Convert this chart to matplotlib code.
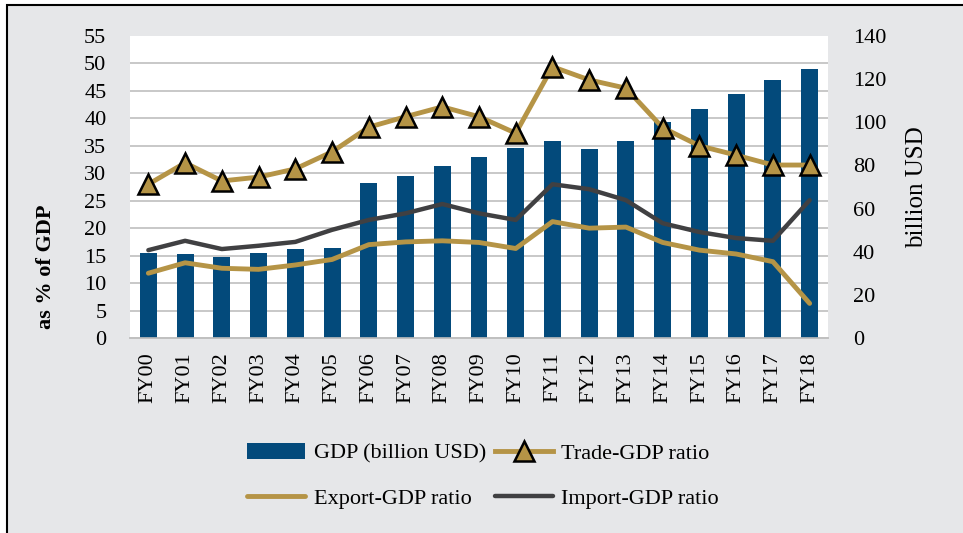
import matplotlib
matplotlib.use("Agg")
import matplotlib.pyplot as plt
from matplotlib.patches import Rectangle
from matplotlib.ticker import MultipleLocator

plt.rcParams['font.family'] = ['Liberation Serif', 'DejaVu Serif']

# data
years = ['FY00', 'FY01', 'FY02', 'FY03', 'FY04', 'FY05', 'FY06', 'FY07', 'FY08', 'FY09',
         'FY10', 'FY11', 'FY12', 'FY13', 'FY14', 'FY15', 'FY16', 'FY17', 'FY18']
gdp = [39.4, 38.9, 37.6, 39.4, 41.3, 41.7, 71.9, 75.1, 79.7, 83.9,
       88.1, 91.3, 87.6, 91.3, 100.1, 106.2, 113.1, 119.6, 124.7]
trade_ratio = [28.0, 31.9, 28.6, 29.3, 30.8, 33.9, 38.4, 40.3, 42.1, 40.3,
               37.3, 49.4, 47.0, 45.5, 38.3, 35.0, 33.3, 31.5, 31.5]
export_ratio = [11.8, 13.7, 12.7, 12.5, 13.3, 14.3, 17.0, 17.5, 17.7, 17.4,
                16.3, 21.2, 20.0, 20.2, 17.4, 16.0, 15.3, 13.9, 6.3]
import_ratio = [16.0, 17.7, 16.2, 16.8, 17.5, 19.7, 21.5, 22.7, 24.4, 22.7,
                21.5, 28.0, 27.1, 25.1, 20.9, 19.3, 18.2, 17.7, 25.1]

blue = '#034A7B'
gold = '#B59446'
dark = '#404042'

fig = plt.figure(figsize=(9.63, 5.33), dpi=100)
fig.patch.set_facecolor('white')
# grey panel with black frame (right/bottom edges cut off in the original)
fig.patches.append(Rectangle((7 / 963, -0.1), 1.2, 1.1 - 5 / 533, transform=fig.transFigure,
                             facecolor='#E6E7E9', edgecolor='black', linewidth=1.5, zorder=-10))

ax = fig.add_axes([130 / 963, 1 - 338 / 533, 698 / 963, 302 / 533])
ax2 = ax.twinx()

x = list(range(len(years)))

# bars on right axis, drawn underneath the ratio lines
ax2.bar(x, gdp, width=0.46, color=blue, label='GDP (billion USD)', zorder=3)
ax2.set_ylim(0, 140)
ax2.yaxis.set_major_locator(MultipleLocator(20))
ax2.yaxis.set_minor_locator(MultipleLocator(140 / 11))
ax2.grid(which='minor', axis='y', color='#BFBFBF', linewidth=1.2, zorder=0)
ax2.set_axisbelow(True)
ax2.patch.set_visible(True)
ax2.patch.set_facecolor('white')

ax.set_zorder(ax2.get_zorder() + 1)
ax.patch.set_visible(False)

l_exp, = ax.plot(x, export_ratio, color=gold, linewidth=3.5, label='Export-GDP ratio',
                 solid_capstyle='round')
l_imp, = ax.plot(x, import_ratio, color=dark, linewidth=3.2, label='Import-GDP ratio',
                 solid_capstyle='round')
l_trade, = ax.plot(x, trade_ratio, color=gold, linewidth=3.5, marker='^', markersize=14,
                   markerfacecolor=gold, markeredgecolor='black', markeredgewidth=1.8,
                   label='Trade-GDP ratio')

ax.set_xlim(-0.5, len(years) - 0.5)
ax.set_ylim(0, 55)
ax.yaxis.set_major_locator(MultipleLocator(5))
ax.set_xticks(x)
ax.set_xticklabels(years, rotation=90, fontsize=16)

for a in (ax, ax2):
    for side in ('top', 'left', 'right'):
        a.spines[side].set_visible(False)
    a.spines['bottom'].set_color('#BFBFBF')
    a.spines['bottom'].set_linewidth(1.2)

ax.tick_params(axis='y', length=0, pad=17, labelsize=16)
ax.tick_params(axis='x', length=0, pad=10)
ax2.tick_params(axis='y', which='both', length=0, pad=18, labelsize=16)

ax.set_ylabel('as % of GDP', fontsize=16, fontweight='bold')
ax.yaxis.set_label_coords(-0.106, 0.235)
ax2.set_ylabel('billion USD', fontsize=18, labelpad=14)

bar_handle = ax2.containers[0]
fig.legend([bar_handle, l_exp, l_trade, l_imp],
           ['GDP (billion USD)', 'Export-GDP ratio', 'Trade-GDP ratio', 'Import-GDP ratio'],
           loc='center', bbox_to_anchor=(483 / 963, 1 - 476 / 533), ncol=2, frameon=False,
           fontsize=16, handlelength=2.6, columnspacing=0.4, handletextpad=0.4,
           labelspacing=1.1)

fig.savefig('out.png', dpi=100, facecolor=fig.get_facecolor())
